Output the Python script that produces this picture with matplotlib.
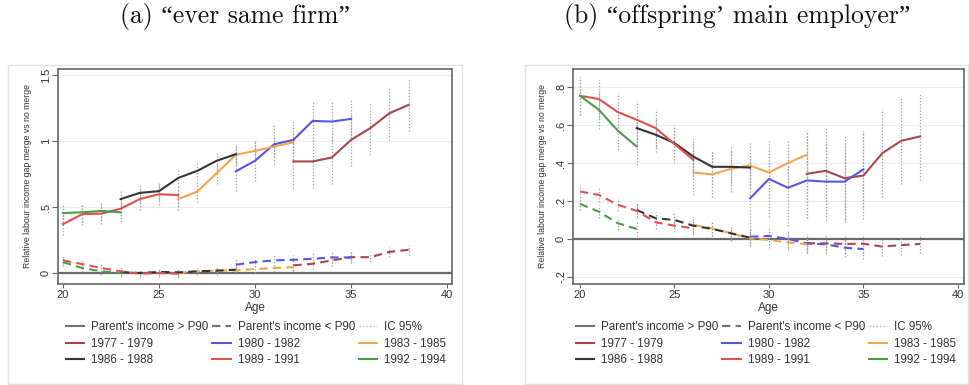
import matplotlib
matplotlib.use("Agg")
import matplotlib.pyplot as plt
from matplotlib.lines import Line2D
from matplotlib.patches import Rectangle

plt.rcParams['font.family'] = ['Liberation Sans', 'DejaVu Sans']

# ---------------- data ----------------
cohorts = ['1977 - 1979', '1980 - 1982', '1983 - 1985', '1986 - 1988', '1989 - 1991', '1992 - 1994']
cohort_colors = ['#a8464c', '#5656e0', '#f4a64e', '#343434', '#e2504f', '#4c9c4c']

ages_1977 = [32, 33, 34, 35, 36, 37, 38]
ages_1980 = [29, 30, 31, 32, 33, 34, 35]
ages_1983 = [26, 27, 28, 29, 30, 31, 32]
ages_1986 = [23, 24, 25, 26, 27, 28, 29]
ages_1989 = [20, 21, 22, 23, 24, 25, 26]
ages_1992 = [20, 21, 22, 23]
ages = [ages_1977, ages_1980, ages_1983, ages_1986, ages_1989, ages_1992]

# Panel (a): "ever same firm"
a_high = [
    [0.845, 0.845, 0.875, 1.008, 1.097, 1.21, 1.273],
    [0.77, 0.85, 0.975, 1.008, 1.152, 1.147, 1.167],
    [0.56, 0.617, 0.756, 0.895, 0.925, 0.958, 0.99],
    [0.56, 0.607, 0.62, 0.72, 0.774, 0.85, 0.90],
    [0.37, 0.446, 0.45, 0.487, 0.56, 0.597, 0.59],
    [0.454, 0.46, 0.47, 0.46],
]
a_high_ci = [0.2, 0.15, 0.08, 0.07, 0.08, 0.07]
a_low = [
    [0.058, 0.07, 0.096, 0.12, 0.12, 0.16, 0.176],
    [0.063, 0.083, 0.096, 0.10, 0.108, 0.118, 0.118],
    [0.0, 0.013, 0.018, 0.02, 0.03, 0.038, 0.045],
    [0.008, 0.0, 0.008, 0.005, 0.013, 0.018, 0.025],
    [0.096, 0.068, 0.038, 0.013, -0.005, 0.0, -0.005],
    [0.083, 0.038, 0.013, 0.0],
]
a_low_ci = [0.04, 0.04, 0.03, 0.02, 0.03, 0.03]
a_yticks = [0, 0.5, 1, 1.5]
a_yticklabels = ['0', '.5', '1', '1.5']

# Panel (b): "offspring' main employer"
b_high = [
    [0.343, 0.359, 0.32, 0.334, 0.452, 0.517, 0.54],
    [0.214, 0.316, 0.27, 0.308, 0.302, 0.302, 0.367],
    [0.35, 0.34, 0.37, 0.387, 0.35, 0.40, 0.443],
    [0.584, 0.549, 0.505, 0.434, 0.38, 0.38, 0.376],
    [0.754, 0.737, 0.668, 0.628, 0.584, 0.50, 0.417],
    [0.754, 0.68, 0.57, 0.487],
]
b_high_ci = [0.23, 0.2, 0.12, 0.09, 0.1, 0.1]
b_low = [
    [-0.023, -0.023, -0.026, -0.025, -0.04, -0.032, -0.026],
    [0.012, 0.016, 0.0, -0.023, -0.028, -0.046, -0.053],
    [0.074, 0.056, 0.03, 0.004, -0.005, -0.018, -0.028],
    [0.153, 0.109, 0.10, 0.07, 0.053, 0.03, 0.007],
    [0.25, 0.232, 0.18, 0.148, 0.088, 0.07, 0.056],
    [0.185, 0.144, 0.083, 0.053],
]
b_low_ci = [0.05, 0.05, 0.04, 0.035, 0.035, 0.035]
b_yticks = [-0.2, 0, 0.2, 0.4, 0.6, 0.8]
b_yticklabels = ['-.2', '0', '.2', '.4', '.6', '.8']

xticks = [20, 25, 30, 35, 40]
titles = ['(a) \u201cever same firm\u201d', '(b) \u201coffspring\u2019 main employer\u201d']
ylabel = 'Relative labour income gap merge vs no merge'
xlabel = 'Age'

# ---------------- figure ----------------
W, H = 969, 385
fig = plt.figure(figsize=(W / 100, H / 100), dpi=100)


def fx(px):
    return px / W


def fy(py):
    return 1 - py / H


def panel(box, axbox, title, title_x, high, high_ci, low, low_ci, yticks, yticklabels, ylim, xlim, leg_cx):
    # outer graph region
    fig.add_artist(Rectangle((fx(box[0]), fy(box[3])), fx(box[2] - box[0]), (box[3] - box[1]) / H,
                             transform=fig.transFigure, fill=False, ec='#e2e2e2', lw=1.0))
    ax = fig.add_axes([fx(axbox[0]), fy(axbox[3]), fx(axbox[2] - axbox[0]), (axbox[3] - axbox[1]) / H])
    for yt in yticks:
        ax.axhline(yt, color='#ececec', lw=0.8, zorder=0)
    ax.axhline(0, color='#6a6a6a', lw=1.6, zorder=1)
    for i in range(len(cohorts)):
        ag = ages[i]
        h = high[i]
        l = low[i]
        ax.vlines(ag, [v - high_ci[i] for v in h], [v + high_ci[i] for v in h],
                  colors='#a0a0a0', linestyles=(0, (1, 1.5)), lw=0.9, zorder=2)
        ax.vlines(ag, [v - low_ci[i] for v in l], [v + low_ci[i] for v in l],
                  colors='#a0a0a0', linestyles=(0, (1, 1.5)), lw=0.9, zorder=2)
    for i in range(len(cohorts)):
        ax.plot(ages[i], high[i], color=cohort_colors[i], lw=1.5, zorder=3)
        ax.plot(ages[i], low[i], color=cohort_colors[i], lw=1.5, ls=(0, (4, 2.5)), zorder=3)
    ax.set_xlim(*xlim)
    ax.set_ylim(*ylim)
    ax.set_xticks(xticks)
    ax.set_xticklabels([str(t) for t in xticks])
    ax.set_yticks(yticks)
    ax.set_yticklabels(yticklabels, rotation=90, va='center')
    for s in ax.spines.values():
        s.set_color('#666666')
        s.set_linewidth(1.2)
    ax.tick_params(axis='both', direction='out', length=4, width=0.8, color='#666666',
                   labelcolor='#333333', labelsize=8)
    ax.tick_params(axis='x', length=3, pad=1.5)
    ax.tick_params(axis='y', pad=1)
    ax.set_ylabel(ylabel, fontsize=6.3, color='#333333')
    ax.yaxis.set_label_coords(-26 / (axbox[2] - axbox[0]), 0.5)
    ax.set_xlabel(xlabel, fontsize=8.5, color='#333333', labelpad=1)

    gt = Line2D([], [], color='#6f6f6f', lw=1.5)
    lt = Line2D([], [], color='#6f6f6f', lw=1.5, ls=(0, (4, 2.5)))
    ci = Line2D([], [], color='#b8b8b8', lw=1.0, ls=(0, (1, 1.5)))
    ch = [Line2D([], [], color=c, lw=1.5) for c in cohort_colors]
    handles = [gt, ch[0], ch[3], lt, ch[1], ch[4], ci, ch[2], ch[5]]
    labels = ["Parent's income > P90", cohorts[0], cohorts[3],
              "Parent's income < P90", cohorts[1], cohorts[4],
              'IC 95%', cohorts[2], cohorts[5]]
    fig.legend(handles, labels, ncol=3, loc='upper center', bbox_to_anchor=(fx(leg_cx), fy(321)),
               frameon=False, fontsize=8.4, handlelength=1.6, handletextpad=0.6,
               columnspacing=0.3, labelspacing=0.4, borderpad=0, borderaxespad=0,
               labelcolor='#333333')
    fig.text(fx(title_x), fy(17), title, ha='center', va='center', fontsize=18.5,
             family=['cmr10', 'Liberation Serif', 'DejaVu Serif'], color='#111111')
    return ax


panel((8, 65, 462, 384), (58, 69, 452, 284), titles[0], 235,
      a_high, a_high_ci, a_low, a_low_ci, a_yticks, a_yticklabels,
      (-0.083, 1.545), (19.74, 40.26), 256)
panel((525, 65, 968, 384), (573, 69, 964, 284), titles[1], 737,
      b_high, b_high_ci, b_low, b_low_ci, b_yticks, b_yticklabels,
      (-0.237, 0.895), (19.63, 40.32), 766)

fig.savefig('out.png', dpi=100)
